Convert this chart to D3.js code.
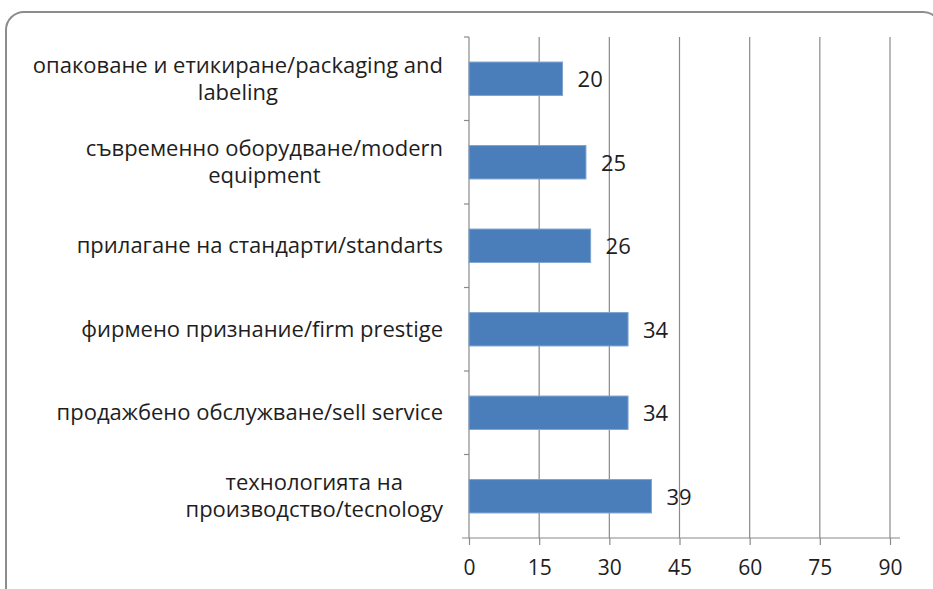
<!DOCTYPE html>
<html lang="bg">
<head>
<meta charset="UTF-8">
<title>Bar chart</title>
<script src="https://d3js.org/d3.v7.min.js"></script>
<style>
  body { margin: 0; background: #fff; }
  text { font-family: "Open Sans", sans-serif; fill: #1e1e1e; }
</style>
</head>
<body>
<svg width="933" height="589"></svg>
<script>
// data, top bar first
const categories = [
    ["опаковане и етикиране/packaging and", "labeling"],
    ["съвременно оборудване/modern", "equipment"],
    ["прилагане на стандарти/standarts"],
    ["фирмено признание/firm prestige"],
    ["продажбено обслужване/sell service"],
    ["технологията на", "производство/tecnology"]
];
const values = [20, 25, 26, 34, 34, 39];
const tickValues = [0, 15, 30, 45, 60, 75, 90];

const svg = d3.select("svg");
const margin = { left: 469, top: 37, right: 43, bottom: 51 };
const width = 933 - margin.left - margin.right;
const height = 589 - margin.top - margin.bottom;

// rounded frame
svg.append("rect")
    .attr("x", 6).attr("y", 12)
    .attr("width", 935).attr("height", 620)
    .attr("rx", 18)
    .attr("fill", "none")
    .attr("stroke", "#8c8c8c")
    .attr("stroke-width", 2);

const g = svg.append("g").attr("transform", `translate(${margin.left},${margin.top})`);

const x = d3.scaleLinear().domain([0, 90]).range([0, width]);
const y = d3.scaleBand().domain(d3.range(categories.length)).range([0, height]).paddingInner(0.6).paddingOuter(0.3);
const yb = d3.scaleBand().domain(d3.range(categories.length)).range([0, height]);

// vertical gridlines
g.selectAll("line.grid")
    .data(tickValues.slice(1))
    .enter().append("line")
    .attr("x1", d => x(d)).attr("x2", d => x(d))
    .attr("y1", 0).attr("y2", height)
    .attr("stroke", "#8a8a8a")
    .attr("stroke-width", 1.2);

// bottom axis
const xAxis = g.append("g")
    .attr("transform", `translate(0,${height})`)
    .call(d3.axisBottom(x).tickValues(tickValues).tickSize(7).tickPadding(15));
xAxis.select(".domain").remove();
xAxis.selectAll(".tick line").attr("stroke", "#8a8a8a").attr("stroke-width", 1.2);
xAxis.selectAll(".tick text").style("font-size", "21px").attr("fill", "#1e1e1e");
g.append("line")
    .attr("x1", -7).attr("x2", width + 10)
    .attr("y1", height).attr("y2", height)
    .attr("stroke", "#8a8a8a").attr("stroke-width", 1.2);

// left axis line and boundary ticks
g.append("line")
    .attr("x1", 0).attr("x2", 0).attr("y1", 0).attr("y2", height)
    .attr("stroke", "#8a8a8a").attr("stroke-width", 1.2);
g.selectAll("line.ytick")
    .data(d3.range(categories.length))
    .enter().append("line")
    .attr("x1", -5).attr("x2", 0)
    .attr("y1", d => yb(d)).attr("y2", d => yb(d))
    .attr("stroke", "#8a8a8a").attr("stroke-width", 1.2);

// bars
g.selectAll("rect.bar")
    .data(values)
    .enter().append("rect")
    .attr("x", 0)
    .attr("y", (d, i) => y(i))
    .attr("width", d => x(d))
    .attr("height", y.bandwidth())
    .attr("fill", "#4a7ebb")
    .attr("stroke", "#7da3d0")
    .attr("stroke-width", 1);

// value labels
g.selectAll("text.val")
    .data(values)
    .enter().append("text")
    .attr("x", d => x(d) + 15)
    .attr("y", (d, i) => y(i) + y.bandwidth() / 2)
    .attr("dy", "0.38em")
    .style("font-size", "22px")
    .text(d => d);

// category labels, wrapped lines centred on each other, block right-aligned
const labelRight = -26;
const lineH = 27;
categories.forEach((lines, i) => {
    const t = g.append("text")
        .attr("text-anchor", "middle")
        .style("font-size", "22px");
    const cy = yb(i) + yb.bandwidth() / 2;
    lines.forEach((ln, k) => {
        t.append("tspan")
            .attr("y", cy + (k - (lines.length - 1) / 2) * lineH)
            .attr("dy", "0.35em")
            .text(ln);
    });
    let w = 0;
    t.selectAll("tspan").each(function() { w = Math.max(w, this.getComputedTextLength()); });
    t.selectAll("tspan").attr("x", labelRight - w / 2);
});
</script>
</body>
</html>
